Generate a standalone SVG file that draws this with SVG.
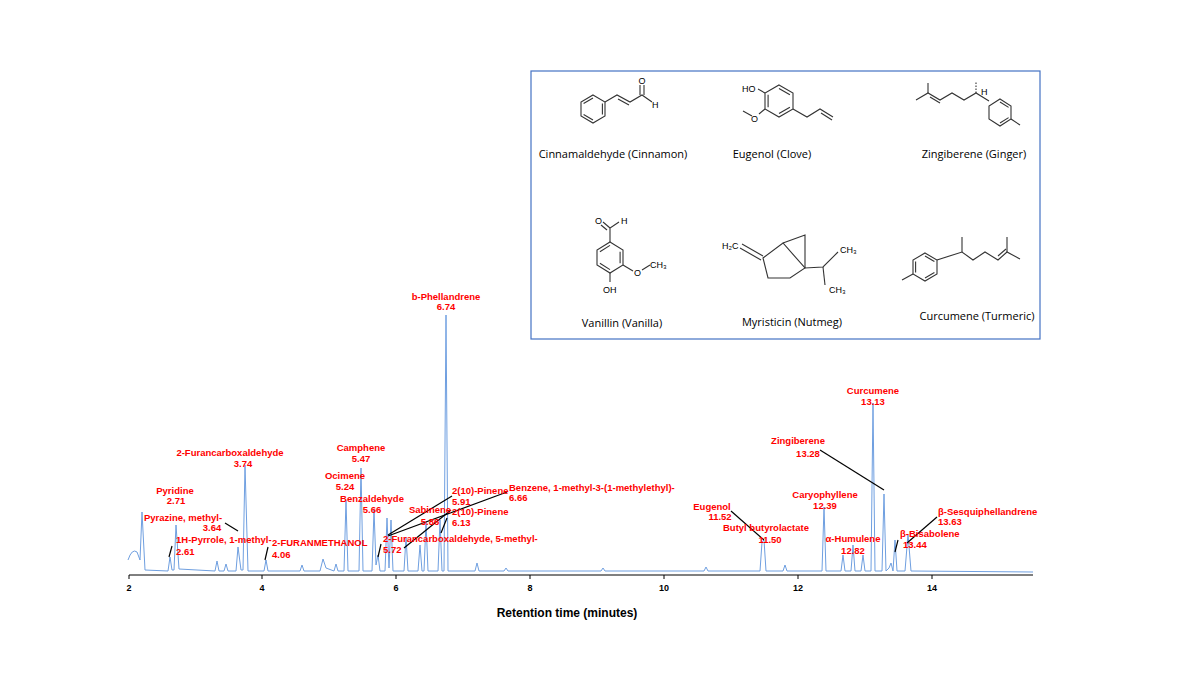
<svg xmlns="http://www.w3.org/2000/svg" width="1200" height="675" viewBox="0 0 1200 675">
<style>
.l{font-family:"Liberation Sans",Arial,sans-serif;font-weight:bold;font-size:9.5px;fill:#ff0000;text-anchor:middle}
.s{text-anchor:start}
.ld{stroke:#000;stroke-width:1.2;fill:none}
.ax{font-family:"Liberation Sans",Arial,sans-serif;font-weight:bold;font-size:9px;fill:#000;text-anchor:middle}
.cap{font-family:"Open Sans","Liberation Sans",sans-serif;font-size:11px;fill:#000;text-anchor:middle}
.at{font-family:"Liberation Sans",Arial,sans-serif;font-size:9px;fill:#000}
.b{stroke:#333;stroke-width:1.1;fill:none}
</style>
<rect width="1200" height="675" fill="#fff"/>
<g id="axis">
<line x1="129" y1="575" x2="1033" y2="575" stroke="#000" stroke-width="1"/>
<g stroke="#000"><line x1="129" y1="575" x2="129" y2="579"/><line x1="262" y1="575" x2="262" y2="579"/><line x1="396" y1="575" x2="396" y2="579"/><line x1="530" y1="575" x2="530" y2="579"/><line x1="664" y1="575" x2="664" y2="579"/><line x1="798" y1="575" x2="798" y2="579"/><line x1="932" y1="575" x2="932" y2="579"/></g>
<text class="ax" x="129" y="591">2</text><text class="ax" x="262" y="591">4</text><text class="ax" x="396" y="591">6</text><text class="ax" x="530" y="591">8</text><text class="ax" x="664" y="591">10</text><text class="ax" x="798" y="591">12</text><text class="ax" x="932" y="591">14</text>
<text x="567" y="617" style="font-family:'Liberation Sans',Arial,sans-serif;font-weight:bold;font-size:12px;text-anchor:middle">Retention time (minutes)</text>
</g>
<g id="trace">
<path fill="none" stroke="#6f9fe0" stroke-width="1" d="M128 560 Q132 548 137 552 L140 560 L142 512 L145 570 L168 571 L170 557 L172 570 L174 570 L176 525 L179 569 L215 571 L217 561 L219 571 L224 571 L226 564 L228 571 L236 571 L238 547 L241 570 L243 570 L245 465 L248 571 L264 571 L266 560 L268 571 L300 571 L302 565 L304 571 L320 571 L323 559 L326 568 L334 571 L336 564 L338 571 L344 571 L346 500 L348 571 L359 571 L361 468 L363 571 L372 571 L374 510 L376 565 L378 555 L380 571 L385 571 L387 518 L389 568 L391 520 L393 571 L404 571 L406 537 L408 571 L418 571 L420 545 L422 571 L424 571 L426 522 L428 571 L438 571 L440 520 L442 571 L444 571 L446 315 L448 571 L475 571 L477 563 L479 571 L504 571 L506 568 L508 571 L601 571 L603 568 L605 571 L704 571 L706 567 L708 571 L760 571 L762 542 L764 540 L766 571 L783 571 L785 565 L787 571 L822 571 L824 507 L826 571 L841 571 L843 555 L845 571 L851 571 L853 545 L855 571 L861 571 L863 555 L865 571 L871 571 L873 403 L875 571 L882 571 L884 494 L886 571 L889 568 L891 563 L893 571 L895 540 L897 571 L905 571 L908 534 L911 571 L1033 572"/>
</g>
<g id="connectors">
<line class="ld" x1="169" y1="557" x2="172" y2="546"/>
<line class="ld" x1="225" y1="523" x2="238" y2="531"/>
<line class="ld" x1="265" y1="560" x2="268" y2="547"/>
<line class="ld" x1="378" y1="557" x2="381" y2="544"/>
<line class="ld" x1="388" y1="535" x2="452" y2="496"/>
<line class="ld" x1="388" y1="536" x2="507" y2="492"/>
<line class="ld" x1="404" y1="548" x2="451" y2="510"/>
<line class="ld" x1="441" y1="533" x2="447" y2="518"/>
<line class="ld" x1="731" y1="511" x2="764" y2="540"/>
<line class="ld" x1="820" y1="450" x2="884" y2="490"/>
<line class="ld" x1="895" y1="552" x2="898" y2="540"/>
<line class="ld" x1="907" y1="543" x2="937" y2="517"/>
</g>
<g id="labels">
<text class="l" x="230" y="456">2-Furancarboxaldehyde</text><text class="l" x="243" y="467">3.74</text>
<text class="l" x="175" y="494">Pyridine</text><text class="l" x="176" y="504">2.71</text>
<text class="l" x="183" y="521">Pyrazine, methyl-</text><text class="l" x="212" y="531">3.64</text>
<text class="l s" x="176" y="543">1H-Pyrrole, 1-methyl-</text><text class="l s" x="176" y="555">2.61</text>
<text class="l s" x="272" y="546">2-FURANMETHANOL</text><text class="l s" x="272" y="558">4.06</text>
<text class="l" x="361" y="451">Camphene</text><text class="l" x="361" y="462">5.47</text>
<text class="l" x="345" y="479">Ocimene</text><text class="l" x="345" y="490">5.24</text>
<text class="l" x="372" y="502">Benzaldehyde</text><text class="l" x="372" y="513">5.66</text>
<text class="l" x="430" y="513">Sabinene</text><text class="l" x="430" y="525">5.86</text>
<text class="l s" x="452" y="494">2(10)-Pinene</text><text class="l s" x="452" y="505">5.91</text>
<text class="l s" x="452" y="515">2(10)-Pinene</text><text class="l s" x="452" y="526">6.13</text>
<text class="l s" x="383" y="542">2-Furancarboxaldehyde, 5-methyl-</text><text class="l s" x="383" y="553">5.72</text>
<text class="l s" x="509" y="491">Benzene, 1-methyl-3-(1-methylethyl)-</text><text class="l s" x="509" y="501">6.66</text>
<text class="l" x="446" y="300">b-Phellandrene</text><text class="l" x="446" y="310">6.74</text>
<text class="l" x="873" y="394">Curcumene</text><text class="l" x="873" y="405">13.13</text>
<text class="l" x="798" y="444">Zingiberene</text><text class="l" x="808" y="457">13.28</text>
<text class="l" x="712" y="510">Eugenol</text><text class="l" x="720" y="520">11.52</text>
<text class="l" x="766" y="531">Butyl butyrolactate</text><text class="l" x="770" y="543">11.50</text>
<text class="l" x="825" y="498">Caryophyllene</text><text class="l" x="825" y="509">12.39</text>
<text class="l" x="853" y="542">α-Humulene</text><text class="l" x="853" y="554">12.82</text>
<text class="l s" x="938" y="515">β-Sesquiphellandrene</text><text class="l s" x="938" y="525">13.63</text>
<text class="l s" x="900" y="537">β-Bisabolene</text><text class="l s" x="903" y="548">13.44</text>
</g>
<g id="structures">
<rect x="531" y="71" width="509" height="268" fill="#fff" stroke="#4472c4" stroke-width="1.2"/>
<g id="cinnamaldehyde">
<polygon class="b" points="593,95 605,102 605,116 593,123 581,116 581,102"/>
<line class="b" x1="602.4" y1="103.5" x2="602.4" y2="114.5"/><line class="b" x1="593" y1="119.9" x2="583.6" y2="114.5"/><line class="b" x1="583.6" y1="103.5" x2="593" y2="98.1"/>
<polyline class="b" points="605,102 617,95 630,102 642,95 652,102"/>
<line class="b" x1="618" y1="99" x2="629" y2="105"/>
<line class="b" x1="640" y1="95" x2="640" y2="85"/><line class="b" x1="644" y1="95" x2="644" y2="85"/>
<text class="at" x="642" y="84" text-anchor="middle">O</text><text class="at" x="652" y="108">H</text>
<text class="cap" x="613" y="158">Cinnamaldehyde (Cinnamon)</text>
</g>
<g id="eugenol">
<polygon class="b" points="779,85 793,93 793,109 779,117 765,109 765,93"/>
<line class="b" x1="779" y1="88.5" x2="789.9" y2="94.8"/><line class="b" x1="789.9" y1="107.2" x2="779" y2="113.5"/><line class="b" x1="768.1" y1="107.2" x2="768.1" y2="94.8"/>
<polyline class="b" points="793,109 807,117 820,109 833,117"/>
<line class="b" x1="821" y1="113" x2="832" y2="120"/>
<line class="b" x1="765" y1="93" x2="758" y2="89"/><line class="b" x1="765" y1="109" x2="759" y2="114"/>
<line class="b" x1="752" y1="116" x2="743" y2="111"/>
<text class="at" x="742" y="92">HO</text><text class="at" x="751" y="122">O</text>
<text class="cap" x="772" y="158">Eugenol (Clove)</text>
</g>
<g id="zingiberene">
<polyline class="b" points="916,100 928,93 940,100 952,93 964,100 976,93 989,101"/>
<line class="b" x1="928" y1="93" x2="928" y2="83"/><line class="b" x1="930" y1="97" x2="940" y2="103"/>
<line class="b" x1="976" y1="93" x2="976" y2="82" stroke-dasharray="1.5,1.5"/>
<text class="at" x="981" y="95">H</text>
<polygon class="b" points="1000,99 1011,106 1011,119 1000,126 989,119 989,106"/>
<line class="b" x1="1000" y1="102" x2="1008.6" y2="107.4"/><line class="b" x1="1008.6" y1="117.6" x2="1000" y2="123"/>
<line class="b" x1="1011" y1="119" x2="1020" y2="125"/>
<text class="cap" x="974" y="158">Zingiberene (Ginger)</text>
</g>
<g id="vanillin">
<polygon class="b" points="610,242 623,250 623,265 610,273 597,265 597,250"/>
<line class="b" x1="620.1" y1="251.7" x2="620.1" y2="263.3"/><line class="b" x1="610" y1="269.6" x2="599.9" y2="263.3"/><line class="b" x1="599.9" y1="251.7" x2="610" y2="245.4"/>
<polyline class="b" points="610,242 610,228 619,222"/><line class="b" x1="610" y1="228" x2="603" y2="222"/><line class="b" x1="607" y1="230" x2="601" y2="225"/>
<text class="at" x="595" y="224">O</text><text class="at" x="621" y="224">H</text>
<line class="b" x1="610" y1="273" x2="610" y2="282"/><text class="at" x="603" y="293">OH</text>
<line class="b" x1="623" y1="265" x2="633" y2="271"/><line class="b" x1="642" y1="270" x2="650" y2="265"/>
<text class="at" x="634" y="276">O</text><text class="at" x="650" y="268">CH₃</text>
<text class="cap" x="622" y="327">Vanillin (Vanilla)</text>
</g>
<g id="myristicin">
<polygon class="b" points="763,258 783,243 805,268 790,278 768,278"/>
<polyline class="b" points="783,243 805,235 805,268 823,267 838,252"/>
<line class="b" x1="823" y1="267" x2="825" y2="285"/>
<line class="b" x1="742" y1="244" x2="763" y2="256"/><line class="b" x1="740" y1="248" x2="761" y2="260"/>
<text class="at" x="722" y="249">H₂C</text><text class="at" x="840" y="253">CH₃</text><text class="at" x="829" y="293">CH₃</text>
<text class="cap" x="792" y="326">Myristicin (Nutmeg)</text>
</g>
<g id="curcumene">
<polygon class="b" points="925,253 937,260 937,274 925,281 913,274 913,260"/>
<line class="b" x1="925" y1="256.1" x2="934.4" y2="261.5"/><line class="b" x1="934.4" y1="272.5" x2="925" y2="277.9"/><line class="b" x1="915.6" y1="272.5" x2="915.6" y2="261.5"/>
<line class="b" x1="913" y1="274" x2="902" y2="280"/>
<polyline class="b" points="937,260 962,252 973,260 985,252 998,260 1007,252 1020,259"/>
<line class="b" x1="962" y1="252" x2="962" y2="237"/><line class="b" x1="1007" y1="252" x2="1007" y2="237"/>
<line class="b" x1="998" y1="256" x2="1006" y2="249"/>
<text class="cap" x="977" y="320">Curcumene (Turmeric)</text>
</g>
</g>
</svg>
